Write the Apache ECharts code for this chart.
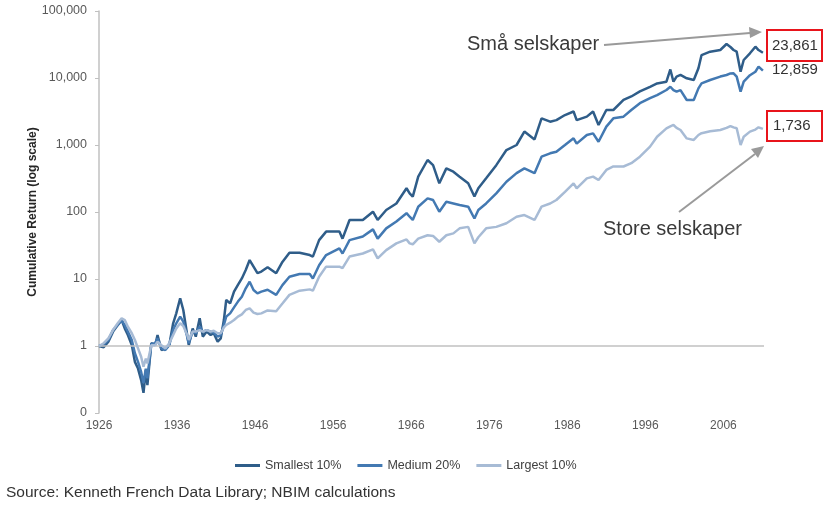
<!DOCTYPE html>
<html>
<head>
<meta charset="utf-8">
<script src="https://cdn.jsdelivr.net/npm/echarts@6/dist/echarts.min.js"></script>
<style>
html,body{margin:0;padding:0;background:#fff;}
#chart{width:828px;height:506px;}
</style>
</head>
<body>
<div id="chart"></div>
<script>
// Axis-year positions of the sampled points (shared by all series)
const years = [
  1926.0,1926.6,1927.2,1927.8,1928.4,1928.9,1929.3,1929.7,1930.2,1930.6,
  1931.0,1931.4,1931.7,1932.0,1932.2,1932.7,1933.2,1933.5,1934.0,1934.5,
  1935.0,1935.5,1935.9,1936.4,1936.8,1937.3,1937.5,1938.0,1938.4,1938.9,
  1939.3,1939.8,1940.3,1940.7,1941.2,1941.6,1942.0,1942.3,1942.8,1943.3,
  1943.8,1944.3,1944.8,1945.3,1945.8,1946.3,1946.8,1947.6,1948.7,1949.5,
  1950.4,1951.7,1953.0,1953.4,1954.2,1955.1,1956.8,1957.2,1958.1,1959.8,
  1961.1,1961.7,1962.8,1964.1,1965.4,1965.8,1966.2,1966.9,1968.1,1968.8,
  1969.6,1970.5,1971.4,1972.2,1973.3,1974.1,1974.6,1975.6,1976.9,1978.2,
  1979.5,1980.5,1981.8,1982.7,1983.8,1984.6,1985.7,1986.8,1987.2,1988.5,
  1989.3,1990.0,1991.0,1991.9,1993.2,1994.2,1995.3,1996.6,1997.5,1998.7,
  1999.2,1999.6,2000.0,2000.5,2001.3,2002.2,2002.8,2003.2,2004.3,2005.6,
  2006.4,2006.9,2007.3,2007.7,2008.2,2008.6,2009.4,2010.1,2010.5,2011.06
];
const smallest10 = [
  1.00,0.96,1.16,1.64,2.06,2.44,1.83,1.46,1.03,0.58,
  0.46,0.31,0.20,0.44,0.26,1.10,1.03,1.46,0.87,0.92,
  1.03,2.18,3.07,5.16,3.45,1.46,1.03,1.83,1.38,2.59,
  1.38,1.64,1.46,1.55,1.16,1.30,2.44,4.86,4.33,6.47,
  8.15,10.2,13.6,19.2,15.3,12.2,12.9,15.0,12.2,18.0,
  24.7,24.7,22.8,21.6,38,51,51,40,76,76,
  101,76,107,134,226,190,170,337,597,500,
  268,448,400,337,268,170,226,318,500,841,
  1000,1590,1210,2500,2230,2350,2800,3160,2350,2650,
  3160,1990,3330,3330,4700,5300,6300,7400,8300,8800,
  13400,8800,10500,11100,9900,9340,14000,22000,24700,26200,
  32150,29000,26200,24700,12430,18560,23350,29350,26150,23861
];
const medium20 = [
  1.00,1.05,1.23,1.73,2.06,2.39,2.06,1.64,1.23,0.78,
  0.58,0.41,0.28,0.46,0.33,1.07,1.10,1.30,0.92,0.87,
  1.03,1.73,2.18,2.74,2.31,1.38,1.10,1.64,1.55,1.94,
  1.64,1.73,1.64,1.58,1.38,1.46,2.06,2.74,3.07,3.77,
  4.60,5.45,7.26,9.10,6.86,6.10,6.47,6.90,5.80,8.10,
  10.8,11.9,11.9,10.2,16,22.8,28.7,24,38,43,
  55,40,57,72,96,85,76,120,160,151,
  101,142,134,127,120,80,107,134,190,283,
  380,448,380,670,751,795,1000,1260,1050,1410,
  1490,1120,1880,2500,2650,3330,4200,5000,5570,6620,
  7400,6600,6250,6600,4700,4700,7000,8300,9340,10500,
  11100,11700,11740,10470,6250,8800,11000,12400,14760,12859
];
const largest10 = [
  1.00,1.10,1.30,1.73,2.18,2.59,2.44,1.94,1.55,1.23,
  0.92,0.69,0.49,0.65,0.55,1.03,1.03,1.16,1.03,0.92,
  1.10,1.46,1.83,2.18,1.99,1.46,1.23,1.64,1.64,1.73,
  1.64,1.73,1.64,1.69,1.55,1.55,1.90,2.06,2.23,2.44,
  2.74,2.97,3.45,3.65,3.15,3.00,3.07,3.40,3.30,4.30,
  5.80,6.70,7.00,6.70,10.8,15.3,15.3,14.5,21.6,24,
  27.7,20.3,27,34,39,34,33,40,45,44,
  36,45,48,57,60,34,42,57,60,68,
  85,90,76,120,134,151,200,268,226,318,
  337,300,425,478,478,535,670,945,1330,1770,
  1900,1990,1800,1675,1255,1190,1410,1500,1600,1675,
  1800,1920,1830,1775,1000,1330,1585,1700,1835,1736
];
const seriesNames = ['Smallest 10%','Medium 20%','Largest 10%'];
const yTicks = [0.1,1,10,100,1000,10000,100000];
const xLabelYears = [1926,1936,1946,1956,1966,1976,1986,1996,2006];
const endLabels = ['23,861','12,859','1,736'];

const colors = ['#2f5d89','#4379b2','#a7bbd5'];
const allValues = [smallest10, medium20, largest10];

const chart = echarts.init(document.getElementById('chart'), null, {renderer:'canvas'});

const series = allValues.map((vals, k) => ({
  name: seriesNames[k],
  type: 'line',
  data: years.map((y, i) => [y, vals[i]]),
  showSymbol: false,
  symbol: 'none',
  lineStyle: {width: 2.5, color: colors[k]},
  itemStyle: {color: colors[k]},
  z: 3 + k
}));
series.unshift({
  name: 'axis1',
  type: 'line',
  data: [],
  silent: true,
  z: 2,
  markLine: {
    silent: true,
    symbol: 'none',
    label: {show: false},
    lineStyle: {color: '#c0c0c0', width: 1.5, type: 'solid'},
    data: [{yAxis: yTicks[1]}]
  }
});

const font = 'Liberation Sans, Arial, sans-serif';

chart.setOption({
  animation: false,
  backgroundColor: '#fff',
  grid: {left: 99, right: 64, top: 11, bottom: 93, containLabel: false},
  xAxis: {
    type: 'value',
    min: xLabelYears[0],
    max: 2011.2,
    interval: 10,
    axisLine: {show: false},
    axisTick: {show: false},
    splitLine: {show: false},
    axisLabel: {
      color: '#595959', fontSize: 12, fontFamily: font, margin: 7,
      showMaxLabel: false,
      formatter: v => xLabelYears.includes(Math.round(v)) && Math.abs(v - Math.round(v)) < 1e-6 ? String(Math.round(v)) : ''
    }
  },
  yAxis: {
    type: 'log',
    logBase: 10,
    min: yTicks[0],
    max: yTicks[yTicks.length - 1],
    name: 'Cumulative Return (log scale)',
    nameLocation: 'middle',
    nameGap: 60,
    nameMoveOverlap: false,
    nameTextStyle: {color: '#262626', fontSize: 12, fontWeight: 'bold', fontFamily: font},
    axisLine: {show: true, lineStyle: {color: '#c0c0c0', width: 1.5}},
    axisTick: {show: true, inside: false, length: 4, lineStyle: {color: '#c0c0c0'}},
    splitLine: {show: false},
    axisLabel: {
      color: '#595959', fontSize: 12.5, fontFamily: font, margin: 12,
      formatter: v => v < 1 ? '0' : Math.round(v).toLocaleString('en-US')
    }
  },
  legend: {
    data: seriesNames,
    left: 230,
    top: 454,
    icon: 'rect',
    itemWidth: 25,
    itemHeight: 3,
    itemGap: 16,
    textStyle: {color: '#404040', fontSize: 12.5, fontFamily: font}
  },
  series: series,
  graphic: [
    {type: 'text', left: 467, top: 34, style: {text: 'Små selskaper', fill: '#3a3a3a', font: '20px ' + font}},
    {type: 'line', shape: {x1: 604, y1: 45, x2: 750, y2: 33}, style: {stroke: '#9a9a9a', lineWidth: 2}},
    {type: 'polygon', shape: {points: [[762, 32], [749, 27], [750, 38]]}, style: {fill: '#9a9a9a'}},
    {type: 'text', left: 603, top: 219, style: {text: 'Store selskaper', fill: '#3a3a3a', font: '20px ' + font}},
    {type: 'line', shape: {x1: 679, y1: 212, x2: 755, y2: 154}, style: {stroke: '#9a9a9a', lineWidth: 2}},
    {type: 'polygon', shape: {points: [[764, 146], [751, 149], [758, 158]]}, style: {fill: '#9a9a9a'}},
    {type: 'rect', shape: {x: 767, y: 30, width: 55, height: 31}, style: {fill: 'none', stroke: '#e8141b', lineWidth: 2}},
    {type: 'rect', shape: {x: 767, y: 111, width: 55, height: 30}, style: {fill: 'none', stroke: '#e8141b', lineWidth: 2}},
    {type: 'text', left: 772, top: 38, style: {text: endLabels[0], fill: '#333', font: '15px ' + font}},
    {type: 'text', left: 772, top: 62, style: {text: endLabels[1], fill: '#333', font: '15px ' + font}},
    {type: 'text', left: 773, top: 118, style: {text: endLabels[2], fill: '#333', font: '15px ' + font}},
    {type: 'text', left: 6, top: 485, style: {text: 'Source: Kenneth French Data Library; NBIM calculations', fill: '#333', font: '15.5px ' + font}}
  ]
});
</script>
</body>
</html>
